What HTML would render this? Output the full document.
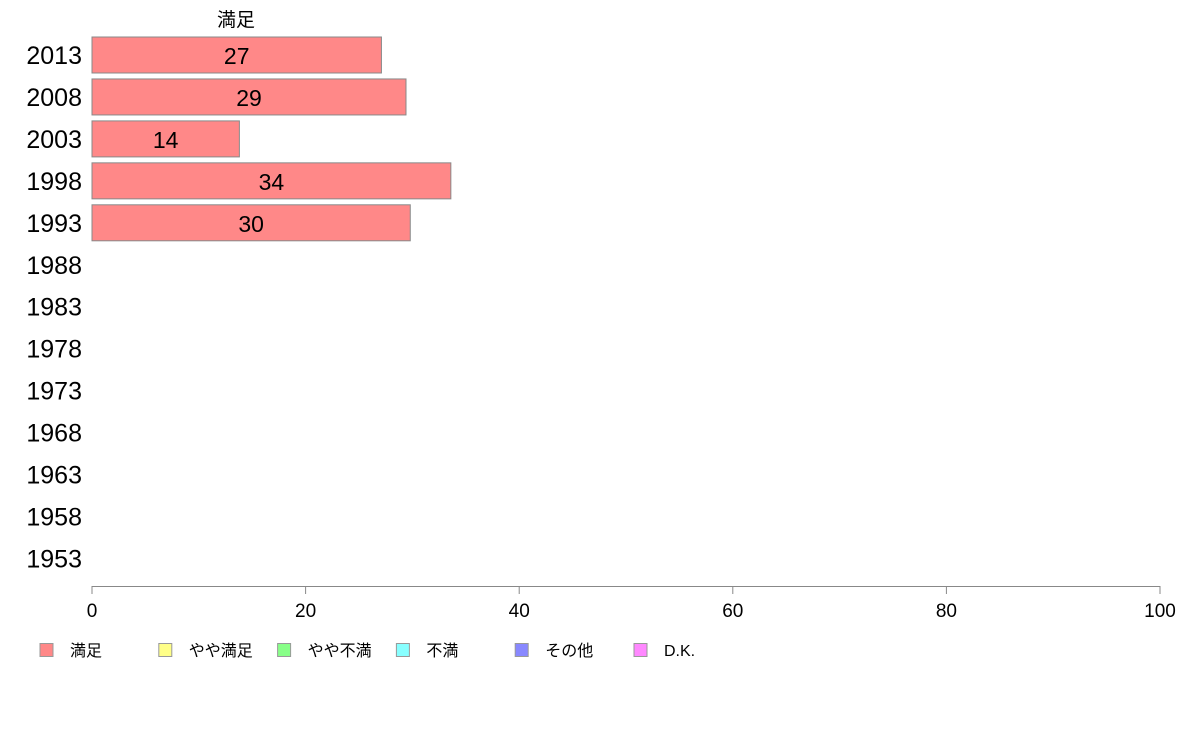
<!DOCTYPE html>
<html><head><meta charset="utf-8"><style>
html,body{margin:0;padding:0;background:#fff;}
svg{display:block;font-family:"Liberation Sans","Noto Sans CJK JP",sans-serif;}
</style></head><body>
<svg id="chart" width="1188" height="736" viewBox="0 0 1188 736"></svg>
<script>
const years = ["2013","2008","2003","1998","1993","1988","1983","1978","1973","1968","1963","1958","1953"];
const values = [27.1, 29.4, 13.8, 33.6, 29.8, null, null, null, null, null, null, null, null];
const xTicks = [0,20,40,60,80,100];
const legendLabels = ["満足","やや満足","やや不満","不満","その他","D.K."];
const legendColors = ["#ff8888","#ffff88","#88ff88","#88ffff","#8888ff","#ff88ff"];
const seriesTitle = "満足";

const NS="http://www.w3.org/2000/svg";
const svg=document.getElementById('chart');
const x0=92,x1=1160;
function xs(v){return x0+(v/100)*(x1-x0);}
function ys(i){return 55+i*41.95;}
function mk(t,a,txt){const e=document.createElementNS(NS,t);for(const k in a)e.setAttribute(k,a[k]);if(txt!==undefined)e.textContent=txt;svg.appendChild(e);return e;}

let e=mk('text',{x:236,y:26,'font-size':19,'text-anchor':'middle'},seriesTitle);



years.forEach((y,i)=>{
  const t=mk('text',{x:82,y:ys(i)+9,'font-size':25,'text-anchor':'end'},y);
  
  
  const v=values[i];
  if(v!==null){
    const r=mk('rect',{x:x0,y:ys(i)-18,width:xs(v)-x0,height:36,fill:'#ff8888',stroke:'#888',"stroke-width":1});
    
    
    const l=mk('text',{x:(x0+xs(v))/2,y:ys(i)+9,'font-size':23,'text-anchor':'middle'},String(Math.round(v)));
    
    
  }
});

e=mk('line',{x1:x0,x2:x1,y1:586.5,y2:586.5,stroke:'#888','stroke-width':1});


xTicks.forEach(v=>{
  const tk=mk('line',{x1:xs(v),x2:xs(v),y1:586,y2:594,stroke:'#888','stroke-width':1});
  
  
  const tl=mk('text',{x:xs(v),y:617,'font-size':19,'text-anchor':'middle'},String(v));
  
  
});

legendLabels.forEach((lab,i)=>{
  const lx=40+i*118.8;
  const b=mk('rect',{x:lx,y:643.5,width:13,height:13,fill:legendColors[i],stroke:'#999','stroke-width':1});
  
  
  const t=mk('text',{x:lx+30,y:656,'font-size':16},lab);
  
  
});
</script>
</body></html>
